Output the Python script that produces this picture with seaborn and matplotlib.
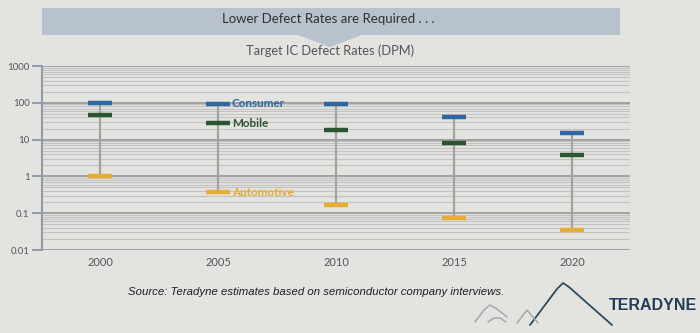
import numpy as np
import pandas as pd
import matplotlib
matplotlib.use("Agg")
import matplotlib.pyplot as plt
import seaborn as sns
from matplotlib.patches import Polygon
from matplotlib.lines import Line2D
from matplotlib.ticker import FixedLocator, LogLocator, NullFormatter

# Target defect rates (defects per million) by market segment
years = [2000, 2005, 2010, 2015, 2020]
consumer = [100, 93, 90, 40, 15]
mobile = [47, 28, 18, 8, 3.8]
automotive = [1.0, 0.37, 0.17, 0.075, 0.035]

segments = ["Consumer", "Mobile", "Automotive"]
seg_colors = ["#2f68a0", "#2d5430", "#e7ac33"]
y_ticks = [0.01, 0.1, 1, 10, 100, 1000]
y_tick_labels = ["0.01", "0.1", "1", "10", "100", "1000"]
year_labels = ["2000", "2005", "2010", "2015", "2020"]

df = pd.DataFrame({
    "year": years * 3,
    "segment": [s for s in segments for _ in years],
    "dpm": consumer + mobile + automotive,
})

sns.set_theme(style="white")
plt.rcParams["font.family"] = ["Lato", "DejaVu Sans"]

W, H = 700, 333
fig = plt.figure(figsize=(W / 100, H / 100), dpi=100)
fig.patch.set_facecolor("#e3e3e0")


def fx(px):
    return px / W


def fy(py):
    return 1 - py / H


ax = fig.add_axes([fx(42), fy(250), fx(630) - fx(42), fy(66) - fy(250)])
ax.set_facecolor("none")
ax.set_yscale("log")
ax.set_ylim(0.01, 1000)
ax.set_xlim(1997.54, 2022.46)

# horizontal grid: one strong line per decade plus fine lines in between
ax.yaxis.set_major_locator(FixedLocator(y_ticks))
ax.yaxis.set_minor_locator(LogLocator(base=10, subs=np.arange(2, 10)))
ax.yaxis.set_minor_formatter(NullFormatter())
ax.grid(which="major", axis="y", color="#9c9c9c", lw=1.3)
ax.grid(which="minor", axis="y", color="#c2c2c2", lw=0.8)
ax.grid(which="both", axis="x", visible=False)

# range bar from the highest to the lowest target each year
ax.vlines(years, automotive, consumer, color="#a3a3a3", lw=1.6, zorder=3)

sns.scatterplot(data=df, x="year", y="dpm", hue="segment", hue_order=segments,
                palette=seg_colors, marker="_", s=290, linewidth=3.2,
                legend=False, ax=ax, zorder=4)

ax.set_xticks(years)
ax.set_xticklabels(year_labels)
ax.set_yticks(y_ticks)
ax.set_yticklabels(y_tick_labels)
ax.set_xlabel("")
ax.set_ylabel("")
ax.tick_params(axis="x", length=0, labelsize=8, labelcolor="#555555", pad=5)
ax.tick_params(axis="y", which="major", left=True, length=7, width=1.4,
               color="#8f9bab", labelsize=7, labelcolor="#555555", pad=2)
ax.tick_params(axis="y", which="minor", left=False)
for side in ["top", "right", "bottom"]:
    ax.spines[side].set_visible(False)
ax.spines["left"].set_color("#8f9bab")
ax.spines["left"].set_linewidth(1.5)

# inline segment names beside the 2005 markers
for name, vals, col in zip(segments, [consumer, mobile, automotive], seg_colors):
    ax.annotate(name, xy=(years[1], vals[1]), xytext=(10, 0),
                textcoords="offset points", va="center", ha="left",
                fontsize=8.4, fontweight="bold", color=col)

# header banner with a pointer below it
banner = Polygon([(fx(42), fy(8)), (fx(620), fy(8)), (fx(620), fy(35)),
                  (fx(362), fy(35)), (fx(330), fy(47)), (fx(298), fy(35)),
                  (fx(42), fy(35))], closed=True, transform=fig.transFigure,
                 facecolor="#b8c2ce", edgecolor="none", zorder=0)
fig.patches.append(banner)
fig.text(fx(328), fy(19), "Lower Defect Rates are Required . . .",
         ha="center", va="center", fontsize=9.5, color="#303030")
fig.text(fx(330), fy(51), "Target IC Defect Rates (DPM)",
         ha="center", va="center", fontsize=9.3, color="#555555")

fig.text(fx(128), fy(292), "Source: Teradyne estimates based on semiconductor company interviews.",
         ha="left", va="center", fontsize=8.2, style="italic",
         family="Liberation Sans", color="#1e1e1e")

# company mark
logo_lines = [
    ([530, 557, 563, 569, 612], [325, 289, 283, 287, 325], "#2e4a5e", 1.3),
    ([517, 527, 538], [323, 310, 323], "#a8a8a8", 1.1),
    ([475, 484, 490, 497, 507], [322, 310, 305, 309, 317], "#a8a8a8", 1.1),
    ([488, 494, 500, 506], [322, 318, 318, 322], "#a8a8a8", 1.1),
]
for xs, ys, col, lw in logo_lines:
    fig.lines.append(Line2D([fx(v) for v in xs], [fy(v) for v in ys],
                            transform=fig.transFigure, color=col, lw=lw))
fig.text(fx(697), fy(306), "TERADYNE", ha="right", va="center", fontsize=11.5,
         fontweight="bold", family="Liberation Sans", color="#243b5a")

fig.savefig("out.png", dpi=100, facecolor=fig.get_facecolor())
